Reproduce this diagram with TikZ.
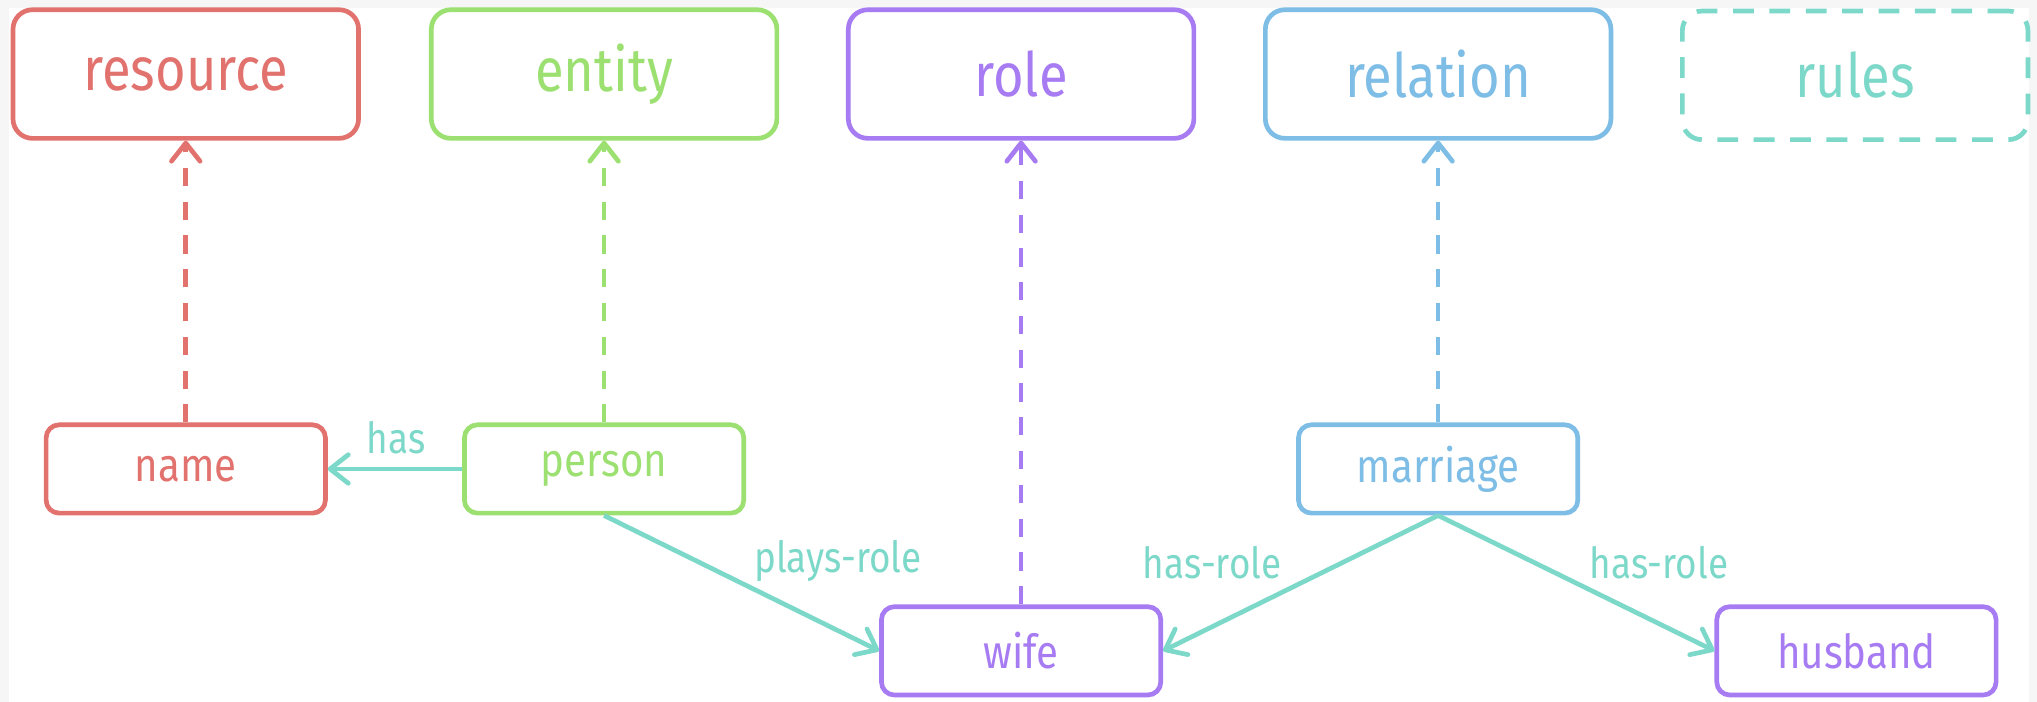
\documentclass[tikz,border=0pt]{standalone}
\usepackage{fontspec}
\setmainfont{Fira Sans}[FakeStretch=0.86]
\usetikzlibrary{arrows.meta}
\definecolor{cred}{RGB}{226,114,110}
\definecolor{cgreen}{RGB}{155,224,112}
\definecolor{cpurple}{RGB}{167,124,243}
\definecolor{cblue}{RGB}{126,190,230}
\definecolor{cteal}{RGB}{124,216,200}
\definecolor{cband}{RGB}{246,246,246}
\begin{document}
\begin{tikzpicture}[x=0.5pt,y=-0.5pt,
  topbox/.style={draw, line width=1.8pt, rounded corners=7.5pt, minimum width=133pt, minimum height=49.5pt, font=\fontsize{23.5}{26}\selectfont, inner sep=0pt},
  lowbox/.style={draw, line width=1.8pt, rounded corners=5pt, minimum width=107.5pt, minimum height=34pt, font=\fontsize{18}{20}\selectfont, inner sep=0pt},
  tip/.style={-{Straight Barb[length=7pt,width=11pt,line width=1.8pt,round]}},
  dep/.style={tip, line width=1.8pt, dash pattern=on 7pt off 6pt},
  rel/.style={tip, line width=1.8pt, draw=cteal},
  lbl/.style={text=cteal, font=\fontsize{16.5}{19}\selectfont, inner sep=0pt}]
\useasboundingbox (0,0) rectangle (1568,540);
\fill[cband] (0,0) rectangle (1568,540);
\fill[white] (7,6) rectangle (1562,540);
% top row
\node[topbox, draw=cred, text=cred] (resource) at (143,57) {resource};
\node[topbox, draw=cgreen, text=cgreen] (entity) at (465,57) {entity};
\node[topbox, draw=cpurple, text=cpurple] (role) at (786,57) {role};
\node[topbox, draw=cblue, text=cblue] (relation) at (1107,57) {relation};
\node[topbox, draw=cteal, text=cteal, dash pattern=on 8pt off 6pt] (rules) at (1428,58) {rules};
% lower nodes
\node[lowbox, draw=cred, text=cred] (name) at (143,361) {name};
\node[lowbox, draw=cgreen, text=cgreen] (person) at (465,361) {person};
\node[lowbox, draw=cblue, text=cblue] (marriage) at (1107,361) {marriage};
\node[lowbox, draw=cpurple, text=cpurple] (wife) at (786,501) {wife};
\node[lowbox, draw=cpurple, text=cpurple] (husband) at (1429,501) {husband};
% dashed instance-of arrows
\draw[dep, cred] (name.north) -- (resource.south);
\draw[dep, cgreen] (person.north) -- (entity.south);
\draw[dep, cpurple] (wife.north) -- (role.south);
\draw[dep, cblue] (marriage.north) -- (relation.south);
% relations
\draw[rel] (person.west) -- (name.east);
\draw[rel] (person.south) -- (wife.west);
\draw[rel] (marriage.south) -- (wife.east);
\draw[rel] (marriage.south) -- (husband.west);
% labels
\node[lbl] (lhas) at (305,337) {has};
\node[lbl] (lplays) at (645,432) {plays-role};
\node[lbl] (lhr1) at (933,433) {has-role};
\node[lbl] (lhr2) at (1277,433) {has-role};
\end{tikzpicture}
\end{document}
